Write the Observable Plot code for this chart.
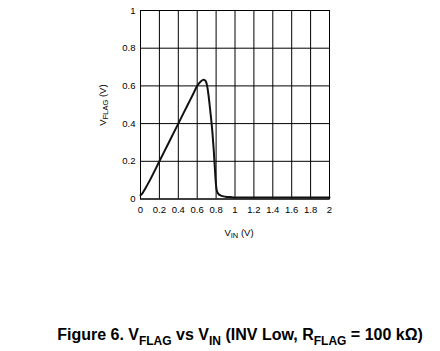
<!DOCTYPE html>
<html>
<head>
<meta charset="utf-8">
<script src="https://cdn.jsdelivr.net/npm/d3@7"></script>
<script src="https://cdn.jsdelivr.net/npm/@observablehq/plot@0.6"></script>
<style>
  html, body { margin: 0; padding: 0; background: #fff; }
  #wrap { position: relative; width: 440px; height: 351px; font-family: "Liberation Sans", Arial, sans-serif; }
  #caption { position: absolute; left: 0; width: 440px; top: 326px; line-height: 18px; text-align: center; font-weight: bold; font-size: 16px; color: #000; padding-left: 40px; box-sizing: border-box; white-space: nowrap; }
  #caption sub { font-size: 12px; vertical-align: -4.5px; line-height: 0; }
</style>
</head>
<body>
<div id="wrap">
  <div id="chart"></div>
  <div id="caption">Figure 6. V<sub>FLAG</sub> vs V<sub>IN</sub> (INV Low, R<sub>FLAG</sub> = 100 kΩ)</div>
</div>
<script>
const vin   = [0, 0.02, 0.05, 0.1, 0.2, 0.3, 0.4, 0.5, 0.56, 0.6, 0.64, 0.67, 0.69, 0.705, 0.72, 0.74, 0.76, 0.775, 0.785, 0.795, 0.805, 0.82, 0.85, 0.9, 0.95, 1.0, 1.2, 1.5, 2.0];
const vflag = [0.02, 0.03, 0.055, 0.1, 0.2, 0.3, 0.4, 0.5, 0.56, 0.6, 0.625, 0.632, 0.625, 0.6, 0.55, 0.46, 0.36, 0.26, 0.18, 0.1, 0.05, 0.03, 0.018, 0.012, 0.01, 0.008, 0.008, 0.008, 0.008];
const xTicks = [0, 0.2, 0.4, 0.6, 0.8, 1, 1.2, 1.4, 1.6, 1.8, 2];
const yTicks = [0, 0.2, 0.4, 0.6, 0.8, 1];

const data = vin.map((v, i) => ({x: v, y: vflag[i]}));

const W = 440, H = 310;
const plot = Plot.plot({
  width: W,
  height: H,
  marginLeft: 140,
  marginRight: 111,
  marginTop: 10,
  marginBottom: 111.5,
  style: {fontFamily: "'Liberation Sans', Arial, sans-serif", fontSize: "9.5px", color: "#000", background: "#fff"},
  x: {domain: [0, 2], ticks: xTicks, tickFormat: d => String(d), label: null, tickSize: 0, tickPadding: 7},
  y: {domain: [0, 1], ticks: yTicks, tickFormat: d => String(d), label: null, tickSize: 0, tickPadding: 5},
  marks: [
    Plot.gridX(xTicks, {stroke: "#000", strokeOpacity: 1, strokeWidth: 1}),
    Plot.gridY(yTicks, {stroke: "#000", strokeOpacity: 1, strokeWidth: 1}),
    Plot.frame({stroke: "#000", strokeWidth: 1}),
    Plot.line(data, {x: "x", y: "y", stroke: "#111", strokeWidth: 2, curve: "monotone-x"})
  ]
});
document.getElementById("chart").appendChild(plot);

const svg = d3.select(plot);
// Y axis label
const yl = svg.append("text")
  .attr("transform", "translate(106,105) rotate(-90)")
  .attr("text-anchor", "middle")
  .attr("font-size", "9.5px")
  .attr("fill", "#000");
yl.append("tspan").text("V");
yl.append("tspan").attr("font-size", "7.5px").attr("dy", "2").text("FLAG");
yl.append("tspan").attr("dy", "-2").text(" (V)");
// X axis label
const xl = svg.append("text")
  .attr("x", 239).attr("y", 236)
  .attr("text-anchor", "middle")
  .attr("font-size", "9.5px")
  .attr("fill", "#000");
xl.append("tspan").text("V");
xl.append("tspan").attr("font-size", "7.5px").attr("dy", "2").text("IN");
xl.append("tspan").attr("dy", "-2").text(" (V)");
</script>
</body>
</html>
